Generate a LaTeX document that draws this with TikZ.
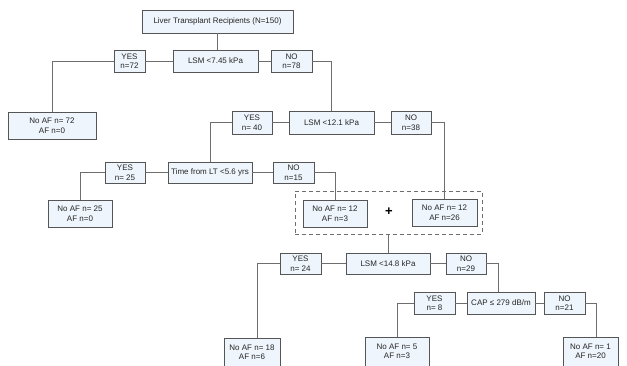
\documentclass[tikz,border=0pt]{standalone}
\usepackage{fontspec}
\setmainfont{Liberation Sans}
\definecolor{boxfill}{HTML}{EEF5FC}
\definecolor{boxline}{HTML}{555555}
\definecolor{conn}{HTML}{6E6E6E}
\begin{document}
\begin{tikzpicture}[x=1pt,y=-1pt,
  box/.style={draw=boxline, fill=boxfill, line width=0.8pt, inner sep=0pt, align=center,
    font=\fontsize{8}{9.5}\selectfont, text=black!85},
  bx/.style n args={2}{box, minimum width=#1, minimum height=#2},
  link/.style={draw=conn, line width=0.8pt}]
\useasboundingbox (0,0) rectangle (627,365);
% nodes
\node[bx={151}{23}] (root) at (217.5,21.5) {Liver Transplant Recipients (N=150)};
\node[bx={85}{22}] (lsm1) at (215.5,61) {LSM <7.45 kPa};
\node[bx={31}{22}] (yes72) at (129.5,61) {YES\\n=72};
\node[bx={41}{22}] (no78) at (291.5,61) {NO\\n=78};
\node[bx={88}{27}] (naf72) at (52,125.5) {No AF n= 72\\AF n=0};
\node[bx={85}{23}] (lsm2) at (331.5,122.5) {LSM <12.1 kPa};
\node[bx={40}{23}] (no38) at (411,122.5) {NO\\n=38};
\node[bx={40}{23}] (yes40) at (252,122.5) {YES\\n= 40};
\node[bx={84}{21}] (time) at (210,172.5) {Time from LT <5.6 yrs};
\node[bx={40}{21}] (yes25) at (125,172.5) {YES\\n= 25};
\node[bx={41}{21}] (no15) at (293.5,172.5) {NO\\n=15};
\node[bx={64}{27}] (naf25) at (80,213.5) {No AF n= 25\\AF n=0};
\node[bx={64}{27}] (naf12a) at (335,213.5) {No AF n= 12\\AF n=3};
\node[bx={65}{27}] (naf12b) at (444.5,212.5) {No AF n= 12\\AF n=26};
\node[font=\fontsize{13}{13}\selectfont\bfseries, inner sep=0pt] (plus) at (389,212) {+};
\node[draw=conn, dash pattern=on 4pt off 3pt, line width=0.8pt, minimum width=187pt,
  minimum height=43pt, inner sep=0pt] (grp) at (388.5,212.5) {};
\node[bx={84}{21}] (lsm3) at (388,263.5) {LSM <14.8 kPa};
\node[bx={41}{21}] (yes24) at (300.5,263.5) {YES\\n= 24};
\node[bx={40}{21}] (no29) at (466,263.5) {NO\\n=29};
\node[bx={56}{28}] (naf18) at (252,352) {No AF n= 18\\AF n=6};
\node[bx={68}{22}] (cap) at (501,303) {CAP ≤ 279 dB/m};
\node[bx={41}{22}] (yes8) at (434.5,303) {YES\\n= 8};
\node[bx={41}{22}] (no21) at (564.5,303) {NO\\n=21};
\node[bx={64}{29}] (naf5) at (397,351.5) {No AF n= 5\\AF n=3};
\node[bx={55}{29}] (naf1) at (590.5,351.5) {No AF n= 1\\AF n=20};
% connectors
\draw[link] (root.south) -- (root.south |- lsm1.north);
\draw[link] (lsm1.west) -- (yes72.east);
\draw[link] (lsm1.east) -- (no78.west);
\draw[link] (yes72.west) -| (naf72.north);
\draw[link] (no78.east) -| (lsm2.north);
\draw[link] (lsm2.west) -- (yes40.east);
\draw[link] (lsm2.east) -- (no38.west);
\draw[link] (yes40.west) -| (time.north);
\draw[link] (no38.east) -| (naf12b.north);
\draw[link] (time.west) -- (yes25.east);
\draw[link] (time.east) -- (no15.west);
\draw[link] (yes25.west) -| (naf25.north);
\draw[link] (no15.east) -| (naf12a.north);
\draw[link] (grp.south) -- (grp.south |- lsm3.north);
\draw[link] (lsm3.west) -- (yes24.east);
\draw[link] (lsm3.east) -- (no29.west);
\draw[link] (yes24.west) -| ([xshift=5pt]naf18.north);
\draw[link] (no29.east) -| ([xshift=-3pt]cap.north);
\draw[link] (cap.west) -- (yes8.east);
\draw[link] (cap.east) -- (no21.west);
\draw[link] (yes8.west) -| (naf5.north);
\draw[link] (no21.east) -| ([xshift=5.5pt]naf1.north);
\end{tikzpicture}
\end{document}
